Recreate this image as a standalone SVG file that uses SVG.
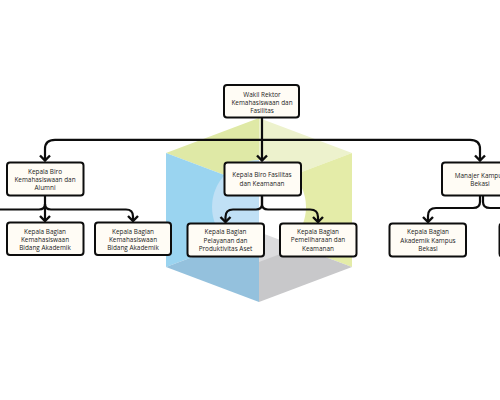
<svg xmlns="http://www.w3.org/2000/svg" width="500" height="400" viewBox="0 0 500 400">
<style>
.b{fill:#fffcf5;stroke:#0d0d0d;stroke-width:2}
.c{fill:none;stroke:#0d0d0d;stroke-width:2.2}
text{font-family:"Open Sans","Liberation Sans",sans-serif;font-size:6.4px;font-weight:500;fill:#222;text-anchor:middle}
</style>
<defs>
<marker id="a" markerUnits="userSpaceOnUse" markerWidth="11" markerHeight="14" refX="9" refY="7" orient="auto-start-reverse" viewBox="0 0 11 14"><path d="M4,2 L9,7 L4,12" fill="none" stroke="#0d0d0d" stroke-width="2.400"/></marker>
</defs>
<rect width="500" height="400" fill="#fff"/>
<g id="backdrop">
<polygon points="166,153 259,118 259,188" fill="#dfe9a6"/>
<polygon points="352,153 259,118 259,188" fill="#edf2cd"/>
<polygon points="166,153 259,188 259,232 166,267" fill="#9ad4f0"/>
<polygon points="352,153 259,188 259,232 352,267" fill="#e4eca8"/>
<polygon points="166,267 259,232 259,302" fill="#94c1dd"/>
<polygon points="352,267 259,232 259,302" fill="#c8c8ca"/>
<path d="M259,160 A47,47 0 0 0 259,254 Z" fill="#c0e0f5"/>
<path d="M259,160 A47,47 0 0 1 259,254 Z" fill="#fff"/>
<polygon points="259,232 299,247 259,262" fill="#dcdcde"/>
</g>
<g id="connectors">
<path class="c" d="M262,117 V160.500" marker-end="url(#a)"/>
<path class="c" d="M45,160.500 V149 Q45,139.800 55,139.800 H470 Q480,139.800 480,149 V160.500" marker-start="url(#a)" marker-end="url(#a)"/>
<path class="c" d="M45,195 V221" marker-end="url(#a)"/>
<path class="c" d="M45,204 Q45,209.500 39,209.500 H0"/>
<path class="c" d="M45,204 Q45,209.500 51,209.500 H126 Q133,209.500 133,216.500 V221" marker-end="url(#a)"/>
<path class="c" d="M262,195 V204 Q262,209.500 256,209.500 H233 Q225.500,209.500 225.500,217 V222" marker-end="url(#a)"/>
<path class="c" d="M262,195 V204 Q262,209.500 268,209.500 H310 Q318,209.500 318,217 V222" marker-end="url(#a)"/>
<path class="c" d="M480,195 V202 Q480,208 473,208 H436 Q428,208 428,216 V222" marker-end="url(#a)"/>
<path class="c" d="M483,195 V202 Q483,208 490,208 H500"/>
</g>
<g id="n1"><rect class="b" x="224" y="85" width="75" height="32.500" rx="3"/><text x="262" y="96.500">Wakil Rektor</text><text x="262" y="104.500">Kemahasiswaan dan</text><text x="262" y="112.500">Fasilitas</text></g>
<g id="n2"><rect class="b" x="7" y="162.500" width="76.500" height="33" rx="3"/><text x="45" y="173.500">Kepala Biro</text><text x="45" y="182">Kemahasiswaan dan</text><text x="45" y="190">Alumni</text></g>
<g id="n3"><rect class="b" x="224.500" y="162.500" width="76.500" height="33" rx="3"/><text x="262" y="177">Kepala Biro Fasilitas</text><text x="262" y="185.500">dan Keamanan</text></g>
<g id="n4"><rect class="b" x="442" y="162.500" width="76.500" height="33" rx="3"/><text x="480" y="177.500">Manajer Kampus</text><text x="480" y="186">Bekasi</text></g>
<g id="n5"><rect class="b" x="7" y="222.500" width="76.500" height="32.500" rx="3"/><text x="45" y="233.500">Kepala Bagian</text><text x="45" y="241.500">Kemahasiswaan</text><text x="45" y="250">Bidang Akademik</text></g>
<g id="n6"><rect class="b" x="95" y="222.500" width="76" height="32.500" rx="3"/><text x="133" y="233.500">Kepala Bagian</text><text x="133" y="241.500">Kemahasiswaan</text><text x="133" y="250">Bidang Akademik</text></g>
<g id="n7"><rect class="b" x="187.500" y="223.500" width="76.500" height="33" rx="3"/><text x="225.500" y="234">Kepala Bagian</text><text x="225.500" y="242.500">Pelayanan dan</text><text x="225.500" y="251">Produktivitas Aset</text></g>
<g id="n8"><rect class="b" x="280" y="223.500" width="76.500" height="33" rx="3"/><text x="318" y="233.500">Kepala Bagian</text><text x="318" y="242">Pemeliharaan dan</text><text x="318" y="250.500">Keamanan</text></g>
<g id="n9"><rect class="b" x="389.500" y="223.500" width="76.500" height="33" rx="3"/><text x="428" y="234">Kepala Bagian</text><text x="428" y="242.500">Akademik Kampus</text><text x="428" y="251">Bekasi</text></g>
<g id="n10"><rect class="b" x="499.500" y="223.500" width="76.500" height="33" rx="3"/></g>
</svg>
